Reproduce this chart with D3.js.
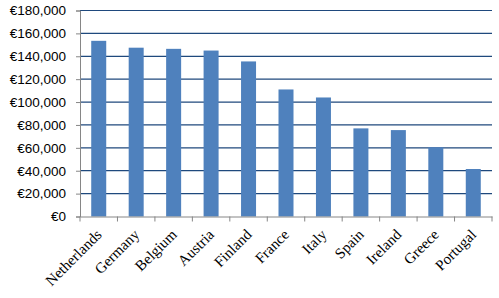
<!DOCTYPE html>
<html>
<head>
<meta charset="utf-8">
<script src="https://d3js.org/d3.v7.min.js"></script>
<style>
  body { margin: 0; background: #fff; }
</style>
</head>
<body>
<script>
var countries = ["Netherlands", "Germany", "Belgium", "Austria", "Finland", "France", "Italy", "Spain", "Ireland", "Greece", "Portugal"]
var values = [153500, 147500, 146500, 145000, 135500, 111000, 104000, 77000, 75500, 60500, 41500]
var yTicks = [0, 20000, 40000, 60000, 80000, 100000, 120000, 140000, 160000, 180000]

var width = 499
var height = 298
var margin = {top: 10.5, right: 7, bottom: 81.5, left: 80}

var svg = d3.select("body").append("svg")
  .attr("width", width)
  .attr("height", height)

var x = d3.scaleBand()
  .domain(countries)
  .range([margin.left, width - margin.right])

var y = d3.scaleLinear()
  .domain([0, 180000])
  .range([height - margin.bottom, margin.top])

var euro = function (d) { return "€" + d3.format(",")(d) }
var barW = 15

// gridlines
svg.append("g")
  .selectAll("line")
  .data(yTicks.slice(1))
  .enter()
  .append("line")
  .attr("x1", margin.left)
  .attr("x2", width - margin.right)
  .attr("y1", d => y(d))
  .attr("y2", d => y(d))
  .attr("stroke", "#1F497D")
  .attr("stroke-width", 1.2)

// bars
svg.append("g")
  .selectAll("rect")
  .data(values)
  .enter()
  .append("rect")
  .attr("x", (d, i) => x(countries[i]) + x.bandwidth() / 2 - barW / 2)
  .attr("width", barW)
  .attr("y", d => y(d))
  .attr("height", d => y(0) - y(d))
  .attr("fill", "#4F81BD")

// y axis
var yAxis = svg.append("g")
  .attr("transform", "translate(" + margin.left + ",0)")
  .call(d3.axisLeft(y).tickValues(yTicks).tickFormat(euro).tickSize(4).tickPadding(10))
yAxis.select(".domain").attr("stroke", "#868686")
yAxis.selectAll(".tick line").attr("stroke", "#868686")
yAxis.selectAll("text")
  .attr("font-family", "'Liberation Sans', Arial, sans-serif")
  .attr("font-size", 13.5)
  .attr("fill", "#000")

// x axis
var xAxis = svg.append("g")
  .attr("transform", "translate(0," + y(0) + ")")
  .call(d3.axisBottom(x).tickSize(0).tickFormat(""))
xAxis.select(".domain").attr("stroke", "#868686")

var bounds = countries.map(c => x(c)).concat([width - margin.right])
svg.append("g")
  .selectAll("line")
  .data(bounds)
  .enter()
  .append("line")
  .attr("x1", d => d)
  .attr("x2", d => d)
  .attr("y1", y(0))
  .attr("y2", y(0) + 5)
  .attr("stroke", "#868686")

svg.append("g")
  .selectAll("text")
  .data(countries)
  .enter()
  .append("text")
  .attr("transform", d => "translate(" + (x(d) + x.bandwidth() / 2 + 4) + "," + (y(0) + 19) + ") rotate(-45)")
  .attr("text-anchor", "end")
  .attr("font-family", "'Liberation Serif', 'DejaVu Serif', serif")
  .attr("font-size", 15)
  .attr("fill", "#000")
  .text(d => d)
</script>
</body>
</html>
